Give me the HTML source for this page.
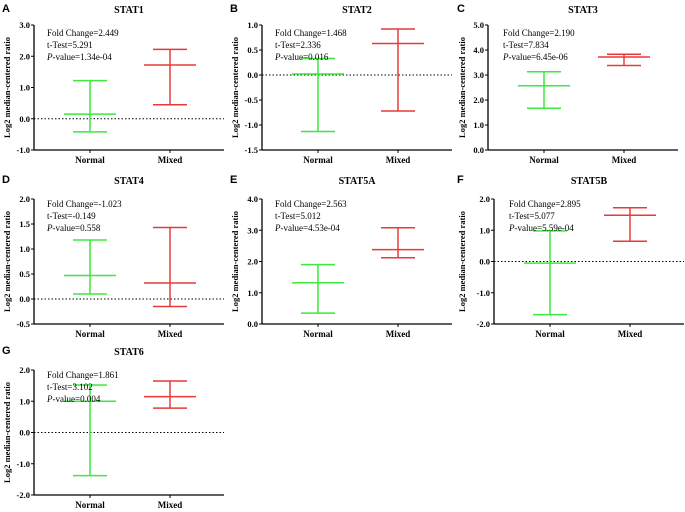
<!DOCTYPE html>
<html><head><meta charset="utf-8"><style>
body{margin:0;background:#fff}
svg{display:block}
.t{font-family:"Liberation Serif",serif}
</style></head><body>
<svg id="c" width="685" height="512"></svg>
<script>
const NS="http://www.w3.org/2000/svg";
const panelNames=["STAT1","STAT2","STAT3","STAT4","STAT5A","STAT5B","STAT6"];
const panelLetters=["A","B","C","D","E","F","G"];
const categories=["Normal","Mixed"];
const normalMean=[0.15,0.02,2.57,0.47,1.32,-0.05,1.0];
const normalLow=[-0.42,-1.13,1.67,0.1,0.35,-1.7,-1.38];
const normalHigh=[1.22,0.33,3.13,1.18,1.9,0.98,1.52];
const mixedMean=[1.72,0.63,3.72,0.32,2.38,1.48,1.15];
const mixedLow=[0.45,-0.72,3.38,-0.15,2.12,0.65,0.78];
const mixedHigh=[2.22,0.92,3.83,1.43,3.08,1.72,1.65];
const yMin=[-1,-1.5,0,-0.5,0,-2,-2];
const yMax=[3,1,5,2,4,2,2];
const yStep=[1,0.5,1,0.5,1,1,1];
const foldChange=["2.449","1.468","2.190","-1.023","2.563","2.895","1.861"];
const tTest=["5.291","2.336","7.834","-0.149","5.012","5.077","3.102"];
const pValue=["1.34e-04","0.016","6.45e-06","0.558","4.53e-04","5.59e-04","0.004"];
const svg=document.getElementById('c');
function mk(tag,attrs,parent,text){const e=document.createElementNS(NS,tag);for(const k in attrs)e.setAttribute(k,attrs[k]);if(text!==undefined)e.textContent=text;(parent||svg).appendChild(e);return e;}
const colX=[0,228,455], axisOff=[34,34,33];
for(let i=0;i<7;i++){
  const col=i%3,row=Math.floor(i/3);
  const ox=colX[col]+axisOff[col]+(col==2&&row>0?6:0), top=25+171*row+(row>0?3:0), bot=top+125;
  const g=mk('g',{});
  
  
  const y=v=>bot-(v-yMin[i])/(yMax[i]-yMin[i])*125;
  const xN=ox+56,xM=ox+136,right=ox+190;
  mk('text',{x:colX[col]+2,y:171*row+12,'font-family':'Liberation Sans,sans-serif','font-weight':'bold','font-size':'11',},g,panelLetters[i]);
  mk('text',{x:ox+95,y:171*row+13,'text-anchor':'middle','class':'t','font-weight':'bold','font-size':'10',},g,panelNames[i]);
  mk('line',{x1:ox,y1:top,x2:ox,y2:bot,stroke:'#000','stroke-width':1.3,},g);
  mk('line',{x1:ox,y1:bot,x2:right,y2:bot,stroke:'#000','stroke-width':1.3,},g);
  const n=Math.round((yMax[i]-yMin[i])/yStep[i]);
  for(let k=0;k<=n;k++){const v=yMin[i]+k*yStep[i],yy=y(v);
    mk('line',{x1:ox-3,y1:yy,x2:ox,y2:yy,stroke:'#000','stroke-width':1},g);
    mk('text',{x:ox-4,y:yy+3,'text-anchor':'end','class':'t','font-weight':'bold','font-size':'8.5',},g,v.toFixed(1));}
  [xN,xM].forEach((xx,j)=>{mk('line',{x1:xx,y1:bot,x2:xx,y2:bot+3,stroke:'#000'},g);
    mk('text',{x:xx,y:bot+13,'text-anchor':'middle','class':'t','font-weight':'bold','font-size':'9',},g,categories[j]);});
  mk('text',{transform:`translate(${colX[col]+10},${(top+bot)/2}) rotate(-90)`,'text-anchor':'middle','class':'t','font-weight':'bold','font-size':'8.5',},g,'Log2 median-centered ratio');
  if(yMin[i]<0) mk('line',{x1:ox,y1:y(0),x2:right,y2:y(0),stroke:'#000','stroke-width':1,'stroke-dasharray':'1.5,2',},g);
  const series=[[xN,normalMean[i],normalLow[i],normalHigh[i],'#3ee83e','normal-errorbar'],[xM,mixedMean[i],mixedLow[i],mixedHigh[i],'#e83a3a','mixed-errorbar']];
  series.forEach(s=>{const [xx,m,lo,hi,c,name]=s;const eg=mk('g',{stroke:c,'stroke-width':1.5},g);
    
    
    mk('line',{x1:xx,y1:y(lo),x2:xx,y2:y(hi)},eg);
    mk('line',{x1:xx-26,y1:y(m),x2:xx+26,y2:y(m)},eg);
    mk('line',{x1:xx-17,y1:y(lo),x2:xx+17,y2:y(lo)},eg);
    mk('line',{x1:xx-17,y1:y(hi),x2:xx+17,y2:y(hi)},eg);});
  const ax=ox+13+(col==2?2:0), ay=171*row+36;
  mk('text',{x:ax,y:ay,'class':'t','font-size':'9',},g,'Fold Change='+foldChange[i]);
  mk('text',{x:ax,y:ay+12,'class':'t','font-size':'9',},g,'t-Test='+tTest[i]);
  const p=mk('text',{x:ax,y:ay+24,'class':'t','font-size':'9',},g);
  mk('tspan',{'font-style':'italic'},p,'P');
  mk('tspan',{},p,'-value='+pValue[i]);
}
</script>
</body></html>
